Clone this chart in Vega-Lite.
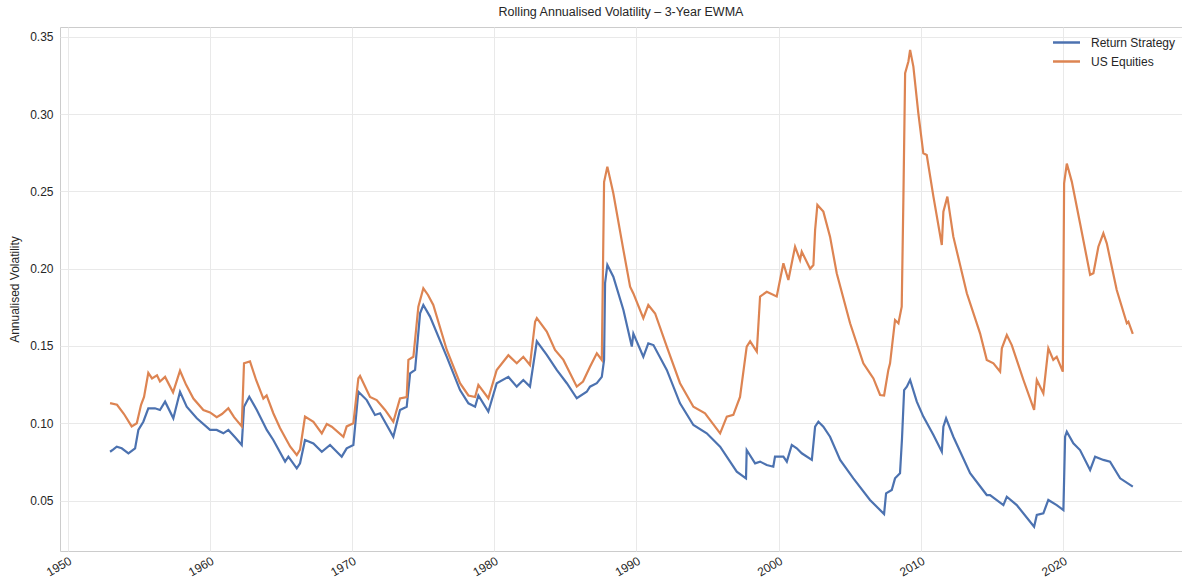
{
  "$schema": "https://vega.github.io/schema/vega-lite/v6.json",
  "width": 1122,
  "height": 524,
  "autosize": {"type": "none"},
  "padding": {"left": 60, "top": 27, "right": 0, "bottom": 30},
  "config": {
    "font": "Liberation Sans, Arial, sans-serif",
    "view": {"stroke": "#cccccc", "strokeWidth": 1},
    "axis": {
      "gridColor": "#e9e9e9",
      "gridWidth": 1,
      "domain": false,
      "ticks": false,
      "labelColor": "#262626",
      "labelFontSize": 12,
      "titleColor": "#262626",
      "titleFontSize": 12,
      "titleFontWeight": "normal"
    },
    "title": {"color": "#262626", "fontSize": 12.5, "fontWeight": "normal"},
    "legend": {"labelColor": "#262626", "labelFontSize": 12}
  },
  "title": {"text": "Rolling Annualised Volatility – 3-Year EWMA", "anchor": "middle", "offset": 9},
  "data": {
    "values": [
      {"year": 1952.99, "series": "Return Strategy", "vol": 0.0816},
      {"year": 1953.20, "series": "Return Strategy", "vol": 0.0830},
      {"year": 1953.46, "series": "Return Strategy", "vol": 0.0849},
      {"year": 1953.81, "series": "Return Strategy", "vol": 0.0838},
      {"year": 1954.28, "series": "Return Strategy", "vol": 0.0806},
      {"year": 1954.75, "series": "Return Strategy", "vol": 0.0838},
      {"year": 1954.98, "series": "Return Strategy", "vol": 0.0957},
      {"year": 1955.33, "series": "Return Strategy", "vol": 0.1010},
      {"year": 1955.68, "series": "Return Strategy", "vol": 0.1097},
      {"year": 1956.15, "series": "Return Strategy", "vol": 0.1097},
      {"year": 1956.50, "series": "Return Strategy", "vol": 0.1086},
      {"year": 1956.86, "series": "Return Strategy", "vol": 0.1140},
      {"year": 1957.44, "series": "Return Strategy", "vol": 0.1032},
      {"year": 1957.91, "series": "Return Strategy", "vol": 0.1204},
      {"year": 1958.38, "series": "Return Strategy", "vol": 0.1107},
      {"year": 1959.09, "series": "Return Strategy", "vol": 0.1032},
      {"year": 1960.02, "series": "Return Strategy", "vol": 0.0957},
      {"year": 1960.49, "series": "Return Strategy", "vol": 0.0957},
      {"year": 1960.96, "series": "Return Strategy", "vol": 0.0935},
      {"year": 1961.31, "series": "Return Strategy", "vol": 0.0957},
      {"year": 1961.78, "series": "Return Strategy", "vol": 0.0910},
      {"year": 1962.25, "series": "Return Strategy", "vol": 0.0860},
      {"year": 1962.41, "series": "Return Strategy", "vol": 0.1107},
      {"year": 1962.78, "series": "Return Strategy", "vol": 0.1172},
      {"year": 1963.31, "series": "Return Strategy", "vol": 0.1086},
      {"year": 1964.01, "series": "Return Strategy", "vol": 0.0957},
      {"year": 1964.47, "series": "Return Strategy", "vol": 0.0892},
      {"year": 1965.30, "series": "Return Strategy", "vol": 0.0752},
      {"year": 1965.53, "series": "Return Strategy", "vol": 0.0784},
      {"year": 1966.12, "series": "Return Strategy", "vol": 0.0709},
      {"year": 1966.35, "series": "Return Strategy", "vol": 0.0741},
      {"year": 1966.70, "series": "Return Strategy", "vol": 0.0892},
      {"year": 1967.29, "series": "Return Strategy", "vol": 0.0870},
      {"year": 1967.88, "series": "Return Strategy", "vol": 0.0816},
      {"year": 1968.46, "series": "Return Strategy", "vol": 0.0860},
      {"year": 1969.28, "series": "Return Strategy", "vol": 0.0784},
      {"year": 1969.63, "series": "Return Strategy", "vol": 0.0838},
      {"year": 1970.10, "series": "Return Strategy", "vol": 0.0860},
      {"year": 1970.45, "series": "Return Strategy", "vol": 0.1204},
      {"year": 1971.04, "series": "Return Strategy", "vol": 0.1150},
      {"year": 1971.62, "series": "Return Strategy", "vol": 0.1054},
      {"year": 1971.98, "series": "Return Strategy", "vol": 0.1065},
      {"year": 1972.91, "series": "Return Strategy", "vol": 0.0913},
      {"year": 1973.38, "series": "Return Strategy", "vol": 0.1086},
      {"year": 1973.85, "series": "Return Strategy", "vol": 0.1107},
      {"year": 1974.09, "series": "Return Strategy", "vol": 0.1323},
      {"year": 1974.44, "series": "Return Strategy", "vol": 0.1345},
      {"year": 1974.79, "series": "Return Strategy", "vol": 0.1711},
      {"year": 1975.02, "series": "Return Strategy", "vol": 0.1765},
      {"year": 1975.49, "series": "Return Strategy", "vol": 0.1690},
      {"year": 1976.67, "series": "Return Strategy", "vol": 0.1430},
      {"year": 1977.60, "series": "Return Strategy", "vol": 0.1215},
      {"year": 1978.19, "series": "Return Strategy", "vol": 0.1129},
      {"year": 1978.66, "series": "Return Strategy", "vol": 0.1107},
      {"year": 1978.89, "series": "Return Strategy", "vol": 0.1180},
      {"year": 1979.59, "series": "Return Strategy", "vol": 0.1075},
      {"year": 1980.18, "series": "Return Strategy", "vol": 0.1259},
      {"year": 1981.00, "series": "Return Strategy", "vol": 0.1300},
      {"year": 1981.59, "series": "Return Strategy", "vol": 0.1237},
      {"year": 1982.05, "series": "Return Strategy", "vol": 0.1280},
      {"year": 1982.52, "series": "Return Strategy", "vol": 0.1237},
      {"year": 1983.00, "series": "Return Strategy", "vol": 0.1530},
      {"year": 1983.70, "series": "Return Strategy", "vol": 0.1442},
      {"year": 1984.40, "series": "Return Strategy", "vol": 0.1345},
      {"year": 1985.11, "series": "Return Strategy", "vol": 0.1259},
      {"year": 1985.81, "series": "Return Strategy", "vol": 0.1162},
      {"year": 1986.51, "series": "Return Strategy", "vol": 0.1204},
      {"year": 1986.74, "series": "Return Strategy", "vol": 0.1237},
      {"year": 1987.22, "series": "Return Strategy", "vol": 0.1259},
      {"year": 1987.57, "series": "Return Strategy", "vol": 0.1300},
      {"year": 1987.73, "series": "Return Strategy", "vol": 0.1410},
      {"year": 1987.80, "series": "Return Strategy", "vol": 0.1906},
      {"year": 1987.96, "series": "Return Strategy", "vol": 0.2024},
      {"year": 1988.38, "series": "Return Strategy", "vol": 0.1948},
      {"year": 1989.09, "series": "Return Strategy", "vol": 0.1733},
      {"year": 1989.68, "series": "Return Strategy", "vol": 0.1496},
      {"year": 1989.79, "series": "Return Strategy", "vol": 0.1580},
      {"year": 1990.49, "series": "Return Strategy", "vol": 0.1430},
      {"year": 1990.84, "series": "Return Strategy", "vol": 0.1517},
      {"year": 1991.20, "series": "Return Strategy", "vol": 0.1506},
      {"year": 1992.14, "series": "Return Strategy", "vol": 0.1345},
      {"year": 1993.07, "series": "Return Strategy", "vol": 0.1129},
      {"year": 1994.01, "series": "Return Strategy", "vol": 0.0989},
      {"year": 1994.95, "series": "Return Strategy", "vol": 0.0935},
      {"year": 1995.89, "series": "Return Strategy", "vol": 0.0849},
      {"year": 1997.06, "series": "Return Strategy", "vol": 0.0687},
      {"year": 1997.71, "series": "Return Strategy", "vol": 0.0644},
      {"year": 1997.76, "series": "Return Strategy", "vol": 0.0827},
      {"year": 1998.35, "series": "Return Strategy", "vol": 0.0741},
      {"year": 1998.70, "series": "Return Strategy", "vol": 0.0752},
      {"year": 1999.17, "series": "Return Strategy", "vol": 0.0730},
      {"year": 1999.63, "series": "Return Strategy", "vol": 0.0719},
      {"year": 1999.75, "series": "Return Strategy", "vol": 0.0784},
      {"year": 2000.34, "series": "Return Strategy", "vol": 0.0784},
      {"year": 2000.58, "series": "Return Strategy", "vol": 0.0752},
      {"year": 2000.93, "series": "Return Strategy", "vol": 0.0860},
      {"year": 2001.28, "series": "Return Strategy", "vol": 0.0838},
      {"year": 2001.63, "series": "Return Strategy", "vol": 0.0806},
      {"year": 2002.34, "series": "Return Strategy", "vol": 0.0763},
      {"year": 2002.57, "series": "Return Strategy", "vol": 0.0978},
      {"year": 2002.80, "series": "Return Strategy", "vol": 0.1010},
      {"year": 2003.15, "series": "Return Strategy", "vol": 0.0978},
      {"year": 2003.62, "series": "Return Strategy", "vol": 0.0913},
      {"year": 2004.33, "series": "Return Strategy", "vol": 0.0763},
      {"year": 2005.26, "series": "Return Strategy", "vol": 0.0644},
      {"year": 2006.43, "series": "Return Strategy", "vol": 0.0504},
      {"year": 2007.42, "series": "Return Strategy", "vol": 0.0413},
      {"year": 2007.56, "series": "Return Strategy", "vol": 0.0547},
      {"year": 2007.96, "series": "Return Strategy", "vol": 0.0569},
      {"year": 2008.19, "series": "Return Strategy", "vol": 0.0644},
      {"year": 2008.54, "series": "Return Strategy", "vol": 0.0677},
      {"year": 2008.68, "series": "Return Strategy", "vol": 0.0900},
      {"year": 2008.83, "series": "Return Strategy", "vol": 0.1215},
      {"year": 2009.02, "series": "Return Strategy", "vol": 0.1237},
      {"year": 2009.25, "series": "Return Strategy", "vol": 0.1280},
      {"year": 2009.72, "series": "Return Strategy", "vol": 0.1140},
      {"year": 2010.18, "series": "Return Strategy", "vol": 0.1043},
      {"year": 2010.89, "series": "Return Strategy", "vol": 0.0924},
      {"year": 2011.48, "series": "Return Strategy", "vol": 0.0816},
      {"year": 2011.59, "series": "Return Strategy", "vol": 0.0978},
      {"year": 2011.78, "series": "Return Strategy", "vol": 0.1032},
      {"year": 2012.29, "series": "Return Strategy", "vol": 0.0913},
      {"year": 2013.47, "series": "Return Strategy", "vol": 0.0677},
      {"year": 2014.64, "series": "Return Strategy", "vol": 0.0536},
      {"year": 2014.87, "series": "Return Strategy", "vol": 0.0536},
      {"year": 2015.81, "series": "Return Strategy", "vol": 0.0471},
      {"year": 2016.05, "series": "Return Strategy", "vol": 0.0525},
      {"year": 2016.75, "series": "Return Strategy", "vol": 0.0471},
      {"year": 2017.97, "series": "Return Strategy", "vol": 0.0331},
      {"year": 2018.16, "series": "Return Strategy", "vol": 0.0407},
      {"year": 2018.62, "series": "Return Strategy", "vol": 0.0418},
      {"year": 2018.97, "series": "Return Strategy", "vol": 0.0504},
      {"year": 2019.56, "series": "Return Strategy", "vol": 0.0471},
      {"year": 2020.03, "series": "Return Strategy", "vol": 0.0439},
      {"year": 2020.15, "series": "Return Strategy", "vol": 0.0913},
      {"year": 2020.27, "series": "Return Strategy", "vol": 0.0946},
      {"year": 2020.73, "series": "Return Strategy", "vol": 0.0870},
      {"year": 2021.20, "series": "Return Strategy", "vol": 0.0827},
      {"year": 2021.91, "series": "Return Strategy", "vol": 0.0698},
      {"year": 2022.26, "series": "Return Strategy", "vol": 0.0784},
      {"year": 2022.84, "series": "Return Strategy", "vol": 0.0763},
      {"year": 2023.31, "series": "Return Strategy", "vol": 0.0752},
      {"year": 2024.02, "series": "Return Strategy", "vol": 0.0644},
      {"year": 2024.91, "series": "Return Strategy", "vol": 0.0590},

      {"year": 1952.99, "series": "US Equities", "vol": 0.1130},
      {"year": 1953.48, "series": "US Equities", "vol": 0.1120},
      {"year": 1953.97, "series": "US Equities", "vol": 0.1060},
      {"year": 1954.51, "series": "US Equities", "vol": 0.0980},
      {"year": 1954.87, "series": "US Equities", "vol": 0.1000},
      {"year": 1955.17, "series": "US Equities", "vol": 0.1120},
      {"year": 1955.38, "series": "US Equities", "vol": 0.1170},
      {"year": 1955.68, "series": "US Equities", "vol": 0.1326},
      {"year": 1955.94, "series": "US Equities", "vol": 0.1290},
      {"year": 1956.29, "series": "US Equities", "vol": 0.1310},
      {"year": 1956.50, "series": "US Equities", "vol": 0.1270},
      {"year": 1956.86, "series": "US Equities", "vol": 0.1300},
      {"year": 1957.42, "series": "US Equities", "vol": 0.1200},
      {"year": 1957.63, "series": "US Equities", "vol": 0.1260},
      {"year": 1957.91, "series": "US Equities", "vol": 0.1340},
      {"year": 1958.33, "series": "US Equities", "vol": 0.1250},
      {"year": 1958.85, "series": "US Equities", "vol": 0.1160},
      {"year": 1959.55, "series": "US Equities", "vol": 0.1086},
      {"year": 1960.02, "series": "US Equities", "vol": 0.1070},
      {"year": 1960.49, "series": "US Equities", "vol": 0.1040},
      {"year": 1960.86, "series": "US Equities", "vol": 0.1060},
      {"year": 1961.31, "series": "US Equities", "vol": 0.1097},
      {"year": 1961.71, "series": "US Equities", "vol": 0.1040},
      {"year": 1962.25, "series": "US Equities", "vol": 0.0980},
      {"year": 1962.41, "series": "US Equities", "vol": 0.1388},
      {"year": 1962.83, "series": "US Equities", "vol": 0.1400},
      {"year": 1963.26, "series": "US Equities", "vol": 0.1280},
      {"year": 1963.77, "series": "US Equities", "vol": 0.1160},
      {"year": 1964.00, "series": "US Equities", "vol": 0.1180},
      {"year": 1964.47, "series": "US Equities", "vol": 0.1065},
      {"year": 1964.94, "series": "US Equities", "vol": 0.0970},
      {"year": 1965.41, "series": "US Equities", "vol": 0.0890},
      {"year": 1965.65, "series": "US Equities", "vol": 0.0850},
      {"year": 1966.12, "series": "US Equities", "vol": 0.0795},
      {"year": 1966.35, "series": "US Equities", "vol": 0.0830},
      {"year": 1966.70, "series": "US Equities", "vol": 0.1043},
      {"year": 1967.29, "series": "US Equities", "vol": 0.1010},
      {"year": 1967.88, "series": "US Equities", "vol": 0.0935},
      {"year": 1968.23, "series": "US Equities", "vol": 0.0995},
      {"year": 1968.58, "series": "US Equities", "vol": 0.0978},
      {"year": 1969.40, "series": "US Equities", "vol": 0.0913},
      {"year": 1969.63, "series": "US Equities", "vol": 0.0980},
      {"year": 1970.10, "series": "US Equities", "vol": 0.1000},
      {"year": 1970.45, "series": "US Equities", "vol": 0.1290},
      {"year": 1970.57, "series": "US Equities", "vol": 0.1306},
      {"year": 1971.27, "series": "US Equities", "vol": 0.1170},
      {"year": 1971.74, "series": "US Equities", "vol": 0.1150},
      {"year": 1972.33, "series": "US Equities", "vol": 0.1086},
      {"year": 1972.91, "series": "US Equities", "vol": 0.1010},
      {"year": 1973.38, "series": "US Equities", "vol": 0.1160},
      {"year": 1973.85, "series": "US Equities", "vol": 0.1170},
      {"year": 1973.97, "series": "US Equities", "vol": 0.1410},
      {"year": 1974.32, "series": "US Equities", "vol": 0.1430},
      {"year": 1974.67, "series": "US Equities", "vol": 0.1754},
      {"year": 1975.02, "series": "US Equities", "vol": 0.1873},
      {"year": 1975.35, "series": "US Equities", "vol": 0.1830},
      {"year": 1975.72, "series": "US Equities", "vol": 0.1765},
      {"year": 1976.67, "series": "US Equities", "vol": 0.1474},
      {"year": 1977.60, "series": "US Equities", "vol": 0.1259},
      {"year": 1978.19, "series": "US Equities", "vol": 0.1180},
      {"year": 1978.66, "series": "US Equities", "vol": 0.1170},
      {"year": 1978.89, "series": "US Equities", "vol": 0.1248},
      {"year": 1979.59, "series": "US Equities", "vol": 0.1162},
      {"year": 1980.18, "series": "US Equities", "vol": 0.1345},
      {"year": 1981.00, "series": "US Equities", "vol": 0.1440},
      {"year": 1981.59, "series": "US Equities", "vol": 0.1388},
      {"year": 1982.05, "series": "US Equities", "vol": 0.1430},
      {"year": 1982.52, "series": "US Equities", "vol": 0.1377},
      {"year": 1982.88, "series": "US Equities", "vol": 0.1657},
      {"year": 1983.00, "series": "US Equities", "vol": 0.1680},
      {"year": 1983.70, "series": "US Equities", "vol": 0.1593},
      {"year": 1984.28, "series": "US Equities", "vol": 0.1474},
      {"year": 1984.87, "series": "US Equities", "vol": 0.1410},
      {"year": 1985.81, "series": "US Equities", "vol": 0.1237},
      {"year": 1986.25, "series": "US Equities", "vol": 0.1270},
      {"year": 1986.74, "series": "US Equities", "vol": 0.1366},
      {"year": 1987.22, "series": "US Equities", "vol": 0.1453},
      {"year": 1987.57, "series": "US Equities", "vol": 0.1410},
      {"year": 1987.73, "series": "US Equities", "vol": 0.2560},
      {"year": 1987.96, "series": "US Equities", "vol": 0.2660},
      {"year": 1988.38, "series": "US Equities", "vol": 0.2488},
      {"year": 1989.09, "series": "US Equities", "vol": 0.2120},
      {"year": 1989.56, "series": "US Equities", "vol": 0.1884},
      {"year": 1989.79, "series": "US Equities", "vol": 0.1840},
      {"year": 1990.49, "series": "US Equities", "vol": 0.1680},
      {"year": 1990.84, "series": "US Equities", "vol": 0.1765},
      {"year": 1991.32, "series": "US Equities", "vol": 0.1710},
      {"year": 1992.14, "series": "US Equities", "vol": 0.1496},
      {"year": 1993.07, "series": "US Equities", "vol": 0.1259},
      {"year": 1994.01, "series": "US Equities", "vol": 0.1107},
      {"year": 1994.83, "series": "US Equities", "vol": 0.1065},
      {"year": 1995.89, "series": "US Equities", "vol": 0.0935},
      {"year": 1996.36, "series": "US Equities", "vol": 0.1043},
      {"year": 1996.82, "series": "US Equities", "vol": 0.1054},
      {"year": 1997.29, "series": "US Equities", "vol": 0.1170},
      {"year": 1997.76, "series": "US Equities", "vol": 0.1496},
      {"year": 1998.00, "series": "US Equities", "vol": 0.1530},
      {"year": 1998.47, "series": "US Equities", "vol": 0.1463},
      {"year": 1998.70, "series": "US Equities", "vol": 0.1820},
      {"year": 1999.17, "series": "US Equities", "vol": 0.1850},
      {"year": 1999.87, "series": "US Equities", "vol": 0.1820},
      {"year": 2000.34, "series": "US Equities", "vol": 0.2035},
      {"year": 2000.69, "series": "US Equities", "vol": 0.1927},
      {"year": 2001.16, "series": "US Equities", "vol": 0.2142},
      {"year": 2001.51, "series": "US Equities", "vol": 0.2056},
      {"year": 2001.63, "series": "US Equities", "vol": 0.2110},
      {"year": 2002.22, "series": "US Equities", "vol": 0.2000},
      {"year": 2002.45, "series": "US Equities", "vol": 0.2024},
      {"year": 2002.57, "series": "US Equities", "vol": 0.2250},
      {"year": 2002.73, "series": "US Equities", "vol": 0.2412},
      {"year": 2003.15, "series": "US Equities", "vol": 0.2369},
      {"year": 2003.62, "series": "US Equities", "vol": 0.2207},
      {"year": 2004.09, "series": "US Equities", "vol": 0.1970},
      {"year": 2005.03, "series": "US Equities", "vol": 0.1647},
      {"year": 2005.96, "series": "US Equities", "vol": 0.1388},
      {"year": 2006.43, "series": "US Equities", "vol": 0.1323},
      {"year": 2006.67, "series": "US Equities", "vol": 0.1290},
      {"year": 2007.14, "series": "US Equities", "vol": 0.1183},
      {"year": 2007.42, "series": "US Equities", "vol": 0.1180},
      {"year": 2007.72, "series": "US Equities", "vol": 0.1345},
      {"year": 2007.84, "series": "US Equities", "vol": 0.1388},
      {"year": 2008.19, "series": "US Equities", "vol": 0.1668},
      {"year": 2008.43, "series": "US Equities", "vol": 0.1647},
      {"year": 2008.66, "series": "US Equities", "vol": 0.1754},
      {"year": 2008.78, "series": "US Equities", "vol": 0.2466},
      {"year": 2008.90, "series": "US Equities", "vol": 0.3264},
      {"year": 2009.13, "series": "US Equities", "vol": 0.3340},
      {"year": 2009.25, "series": "US Equities", "vol": 0.3415},
      {"year": 2009.48, "series": "US Equities", "vol": 0.3307},
      {"year": 2009.83, "series": "US Equities", "vol": 0.3005},
      {"year": 2010.18, "series": "US Equities", "vol": 0.2746},
      {"year": 2010.42, "series": "US Equities", "vol": 0.2735},
      {"year": 2010.89, "series": "US Equities", "vol": 0.2466},
      {"year": 2011.48, "series": "US Equities", "vol": 0.2153},
      {"year": 2011.59, "series": "US Equities", "vol": 0.2369},
      {"year": 2011.87, "series": "US Equities", "vol": 0.2466},
      {"year": 2012.29, "series": "US Equities", "vol": 0.2207},
      {"year": 2013.24, "series": "US Equities", "vol": 0.1841},
      {"year": 2014.17, "series": "US Equities", "vol": 0.1582},
      {"year": 2014.64, "series": "US Equities", "vol": 0.1410},
      {"year": 2015.11, "series": "US Equities", "vol": 0.1388},
      {"year": 2015.58, "series": "US Equities", "vol": 0.1334},
      {"year": 2015.70, "series": "US Equities", "vol": 0.1485},
      {"year": 2016.05, "series": "US Equities", "vol": 0.1571},
      {"year": 2016.40, "series": "US Equities", "vol": 0.1506},
      {"year": 2017.22, "series": "US Equities", "vol": 0.1280},
      {"year": 2017.97, "series": "US Equities", "vol": 0.1086},
      {"year": 2018.16, "series": "US Equities", "vol": 0.1280},
      {"year": 2018.62, "series": "US Equities", "vol": 0.1194},
      {"year": 2018.97, "series": "US Equities", "vol": 0.1485},
      {"year": 2019.32, "series": "US Equities", "vol": 0.1410},
      {"year": 2019.56, "series": "US Equities", "vol": 0.1430},
      {"year": 2019.99, "series": "US Equities", "vol": 0.1334},
      {"year": 2020.08, "series": "US Equities", "vol": 0.2552},
      {"year": 2020.27, "series": "US Equities", "vol": 0.2680},
      {"year": 2020.62, "series": "US Equities", "vol": 0.2563},
      {"year": 2021.20, "series": "US Equities", "vol": 0.2294},
      {"year": 2021.91, "series": "US Equities", "vol": 0.1960},
      {"year": 2022.14, "series": "US Equities", "vol": 0.1970},
      {"year": 2022.49, "series": "US Equities", "vol": 0.2142},
      {"year": 2022.84, "series": "US Equities", "vol": 0.2229},
      {"year": 2023.08, "series": "US Equities", "vol": 0.2164},
      {"year": 2023.78, "series": "US Equities", "vol": 0.1862},
      {"year": 2024.49, "series": "US Equities", "vol": 0.1647},
      {"year": 2024.60, "series": "US Equities", "vol": 0.1657},
      {"year": 2024.91, "series": "US Equities", "vol": 0.1578}
    ]
  },
  "mark": {"type": "line", "strokeWidth": 2.2, "clip": true},
  "encoding": {
    "x": {
      "field": "year",
      "type": "quantitative",
      "scale": {"domain": [1949.47, 2028.37], "nice": false, "zero": false},
      "axis": {
        "title": null,
        "values": [1950, 1960, 1970, 1980, 1990, 2000, 2010, 2020],
        "format": "d",
        "labelAngle": -30,
        "labelAlign": "right",
        "labelBaseline": "top",
        "labelPadding": 4,
        "labelFlush": false,
        "labelOverlap": false
      }
    },
    "y": {
      "field": "vol",
      "type": "quantitative",
      "scale": {"domain": [0.0174, 0.3563], "nice": false, "zero": false},
      "axis": {
        "title": "Annualised Volatility",
        "values": [0.05, 0.10, 0.15, 0.20, 0.25, 0.30, 0.35],
        "format": ".2f",
        "labelPadding": 7,
        "titlePadding": 8
      }
    },
    "color": {
      "field": "series",
      "type": "nominal",
      "scale": {"domain": ["Return Strategy", "US Equities"], "range": ["#4c72b0", "#dd8452"]},
      "legend": {
        "title": null,
        "orient": "none",
        "legendX": 1000,
        "legendY": 9,
        "padding": 0,
        "symbolType": "M-2.7,0H2.7",
        "symbolSize": 100,
        "symbolStrokeWidth": 2.5,
        "labelOffset": 18,
        "rowPadding": 6
      }
    }
  }
}
